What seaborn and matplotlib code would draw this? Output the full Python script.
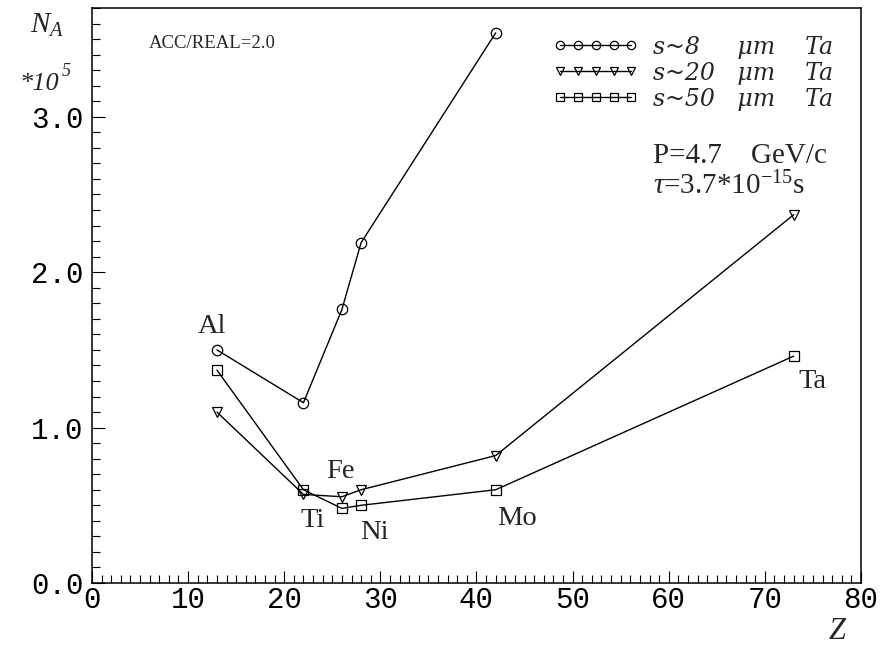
import matplotlib
matplotlib.use("Agg")
import matplotlib.pyplot as plt
from matplotlib.ticker import MultipleLocator, FormatStrFormatter
import numpy as np
import pandas as pd
import seaborn as sns

# Atomic number of the targets and their names
z_values = [13, 22, 26, 28, 42, 73]
elements = ["Al", "Ti", "Fe", "Ni", "Mo", "Ta"]

# N_A (units of 10^5) for the three Ta thicknesses
n_s8 = [1.50, 1.16, 1.76, 2.19, 3.54]          # no Ta point
n_s20 = [1.10, 0.57, 0.555, 0.60, 0.82, 2.37]
n_s50 = [1.37, 0.60, 0.48, 0.50, 0.60, 1.46]

series_labels = ["s~8     \u03bcm    Ta", "s~20   \u03bcm    Ta", "s~50   \u03bcm    Ta"]
series_markers = ["o", "v", "s"]

# element label anchor points (Z, N_A)
label_z = [12.5, 23.0, 25.8, 29.4, 44.2, 75.0]
label_n = [1.65, 0.405, 0.715, 0.325, 0.415, 1.295]

sns.set_theme(style="white")
plt.rcParams["mathtext.fontset"] = "custom"
plt.rcParams["mathtext.rm"] = "Liberation Serif"
plt.rcParams["mathtext.it"] = "Liberation Serif:italic"
plt.rcParams["font.family"] = ["Liberation Serif", "DejaVu Serif"]

fig = plt.figure(figsize=(8.8, 6.56), dpi=100)
ax = fig.add_axes([0.1045, 0.1113, 0.9784 - 0.1045, 0.9878 - 0.1113])

frames = []
for lab, vals in zip(series_labels, [n_s8, n_s20, n_s50]):
    frames.append(pd.DataFrame({"Z": z_values[:len(vals)], "N": vals, "series": lab}))
data = pd.concat(frames, ignore_index=True)

for lab, mk in zip(series_labels, series_markers):
    sub = data[data["series"] == lab]
    sns.lineplot(data=sub, x="Z", y="N", ax=ax, color="black", lw=1.0,
                 marker=mk, markersize=7.5 if mk != "s" else 6.5,
                 markerfacecolor="none", markeredgecolor="black",
                 markeredgewidth=0.9, label=lab, legend=False)

for name, lz, ln in zip(elements, label_z, label_n):
    ax.text(lz, ln, name, ha="center", va="center", fontsize=20.5,
            family="Liberation Serif")

ax.set_xlim(0, 80)
ax.set_ylim(0, 3.7)
ax.xaxis.set_major_locator(MultipleLocator(10))
ax.xaxis.set_minor_locator(MultipleLocator(1))
ax.yaxis.set_major_locator(MultipleLocator(1))
ax.yaxis.set_minor_locator(MultipleLocator(0.1))
ax.yaxis.set_major_formatter(FormatStrFormatter("%.1f"))
ax.tick_params(which="both", direction="in", top=False, right=False,
               bottom=True, left=True, color="black", width=0.8)
ax.tick_params(which="major", length=9)
ax.tick_params(which="minor", length=5.5)
ax.tick_params(axis="y", which="major", pad=6)
ax.tick_params(axis="x", which="major", pad=2)
for lbl in ax.get_xticklabels() + ax.get_yticklabels():
    lbl.set_family("Liberation Mono")
    lbl.set_fontsize(21)
    lbl.set_color("black")
for sp in ax.spines.values():
    sp.set_color("black")
    sp.set_linewidth(1.1)
ax.set_xlabel("")
ax.set_ylabel("")

leg = ax.legend(loc="upper left", bbox_to_anchor=(0.600, 0.952), numpoints=5,
                handlelength=3.6, handletextpad=0.6, labelspacing=0.13,
                markerscale=0.8, frameon=False, borderpad=0, borderaxespad=0,
                prop={"family": "DejaVu Serif", "style": "italic", "size": 17})

ax.text(0.156, 0.939, "ACC/REAL=2.0", transform=ax.transAxes, ha="center",
        va="center", fontsize=13.5)
ax.text(0.729, 0.743, "P=4.7    GeV/c", transform=ax.transAxes, ha="left",
        va="center", fontsize=21)
ax.text(0.729, 0.690, r"$\tau$=3.7*10$^{-15}$s", transform=ax.transAxes,
        ha="left", va="center", fontsize=21)

fig.text(0.054, 0.962, r"$N_A$", ha="center", va="center", fontsize=21)
fig.text(0.022, 1 - 90 / 656, "*10", ha="left", va="baseline", fontsize=19,
         fontstyle="italic")
fig.text(0.070, 1 - 76 / 656, "5", ha="left", va="baseline", fontsize=13,
         fontstyle="italic")
fig.text(0.952, 0.038, r"$Z$", ha="center", va="center", fontsize=22)

fig.savefig("out.png", dpi=100)
